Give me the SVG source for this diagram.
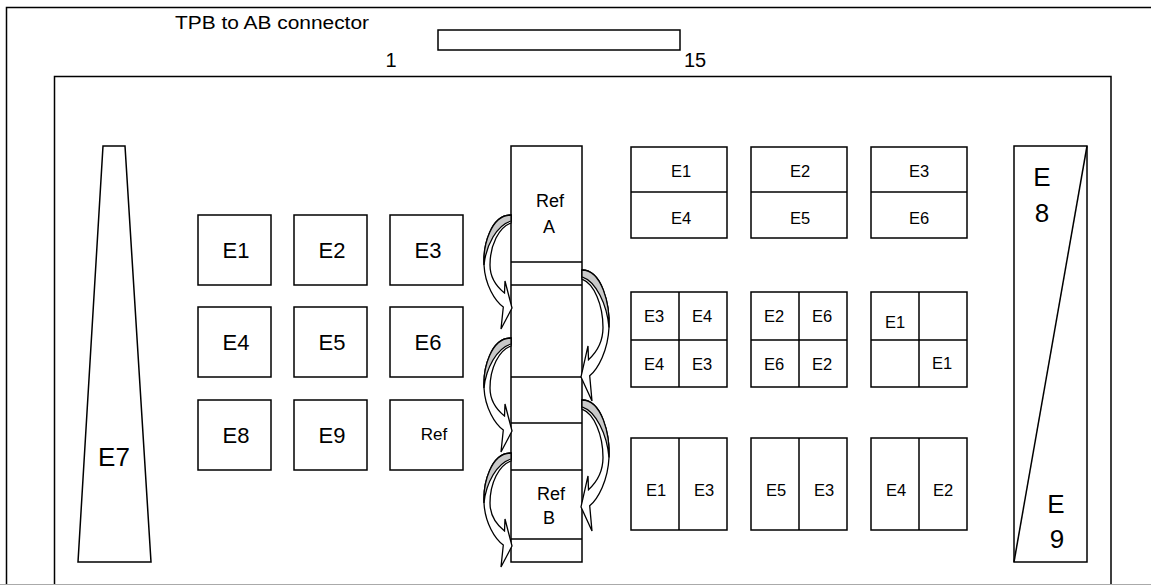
<svg xmlns="http://www.w3.org/2000/svg" width="1151" height="585" viewBox="0 0 1151 585">
<style>
.ln{fill:none;stroke:#000;stroke-width:1.5}
.bx{fill:#fff;stroke:#000;stroke-width:1.5}
.t{font-family:"Liberation Sans",Arial,sans-serif;fill:#000;text-anchor:middle}
.s15{font-size:16.5px}.s20{font-size:22px}.s24{font-size:26px}.s17{font-size:18px}
.arw{fill:#fff;stroke:#000;stroke-width:1.3;stroke-linejoin:miter}
.gry{fill:#c8c8c8;stroke:#000;stroke-width:1.3}
</style>
<defs>
<g id="carrow">
<path class="arw" vector-effect="non-scaling-stroke" d="M0,0 C-20,0 -28,30 -27,50 C-26,70 -16,86 -7.7,92 L-10,114 L1,93 L-6,66 L-6.5,78 C-14,72 -21,62 -21,50 C-21,30 -12,12 0,8 Z"/>
<path class="gry" vector-effect="non-scaling-stroke" d="M0,0 C-20,0 -28,30 -27,50 C-25,30 -14,10 0,6 Z"/>
</g>
</defs>
<rect width="1151" height="585" fill="#fff"/>
<g id="frame">
<path class="ln" d="M1160,7.5 H6.5 V584"/>
<path class="ln" d="M54.5,590 V76.5 H1111 V590"/>
<line x1="0" y1="584.5" x2="1151" y2="584.5" stroke="#aaa" stroke-width="1"/>
</g>
<g id="connector">
<text class="t" x="175" y="29" textLength="194" lengthAdjust="spacingAndGlyphs" style="font-size:18px;text-anchor:start">TPB to AB connector</text>
<rect class="bx" x="438" y="30" width="242" height="20"/>
<text class="t" style="font-size:20px" x="391" y="67">1</text>
<text class="t" style="font-size:20px" x="695" y="67">15</text>
</g>
<g id="e7">
<polygon class="bx" points="103,146 125,146 151,562 78,562"/>
<text class="t s24" x="114" y="466">E7</text>
</g>
<g id="e8e9">
<rect class="bx" x="1014" y="146" width="73" height="416"/>
<line class="ln" x1="1014" y1="562" x2="1087" y2="146"/>
<text class="t s24" x="1042" y="186">E</text>
<text class="t s24" x="1042" y="222">8</text>
<text class="t s24" x="1056" y="513">E</text>
<text class="t s24" x="1057" y="548">9</text>
</g>
<g id="leftgrid">
<g id="lg-e1"><rect class="bx" x="198" y="215" width="73" height="70"/><text class="t s20" x="236" y="258">E1</text></g>
<g id="lg-e2"><rect class="bx" x="294" y="215" width="73" height="70"/><text class="t s20" x="332" y="258">E2</text></g>
<g id="lg-e3"><rect class="bx" x="390" y="215" width="73" height="70"/><text class="t s20" x="428" y="258">E3</text></g>
<g id="lg-e4"><rect class="bx" x="198" y="307" width="73" height="70"/><text class="t s20" x="236" y="350">E4</text></g>
<g id="lg-e5"><rect class="bx" x="294" y="307" width="73" height="70"/><text class="t s20" x="332" y="350">E5</text></g>
<g id="lg-e6"><rect class="bx" x="390" y="307" width="73" height="70"/><text class="t s20" x="428" y="350">E6</text></g>
<g id="lg-e8"><rect class="bx" x="198" y="400" width="73" height="70"/><text class="t s20" x="236" y="443">E8</text></g>
<g id="lg-e9"><rect class="bx" x="294" y="400" width="73" height="70"/><text class="t s20" x="332" y="443">E9</text></g>
<g id="lg-ref"><rect class="bx" x="390" y="400" width="73" height="70"/><text class="t" style="font-size:17px" x="434" y="440">Ref</text></g>
</g>
<g id="column">
<rect class="bx" x="511" y="146" width="71" height="416"/>
<path class="ln" d="M511,262H582M511,285H582M511,377H582M511,423H582M511,470H582M511,539H582"/>
<text class="t s17" x="550" y="207">Ref</text>
<text class="t s17" x="549" y="233">A</text>
<text class="t s17" x="551" y="500">Ref</text>
<text class="t s17" x="549" y="524">B</text>
</g>
<g id="connectors">
<use href="#carrow" transform="translate(511,215)"/>
<use href="#carrow" transform="translate(511,338)"/>
<use href="#carrow" transform="translate(511,453)"/>
<use href="#carrow" transform="translate(582,270) scale(-1,1.15)"/>
<use href="#carrow" transform="translate(582,400) scale(-1,1.15)"/>
</g>
<g id="r1">
<g id="r1c1"><rect class="bx" x="631" y="147" width="96" height="91"/><line class="ln" x1="631" y1="192" x2="727" y2="192"/><text class="t s15" x="681" y="177">E1</text><text class="t s15" x="681" y="224">E4</text></g>
<g id="r1c2"><rect class="bx" x="751" y="147" width="96" height="91"/><line class="ln" x1="751" y1="192" x2="847" y2="192"/><text class="t s15" x="800" y="177">E2</text><text class="t s15" x="800" y="224">E5</text></g>
<g id="r1c3"><rect class="bx" x="871" y="147" width="96" height="91"/><line class="ln" x1="871" y1="192" x2="967" y2="192"/><text class="t s15" x="919" y="177">E3</text><text class="t s15" x="919" y="224">E6</text></g>
</g>
<g id="r2">
<g id="r2c1"><rect class="bx" x="631" y="292" width="96" height="95"/><path class="ln" d="M679,292V387M631,340H727"/><text class="t s15" x="654" y="322">E3</text><text class="t s15" x="702" y="322">E4</text><text class="t s15" x="654" y="370">E4</text><text class="t s15" x="702" y="370">E3</text></g>
<g id="r2c2"><rect class="bx" x="751" y="292" width="96" height="95"/><path class="ln" d="M799,292V387M751,340H847"/><text class="t s15" x="774" y="322">E2</text><text class="t s15" x="822" y="322">E6</text><text class="t s15" x="774" y="370">E6</text><text class="t s15" x="822" y="370">E2</text></g>
<g id="r2c3"><rect class="bx" x="871" y="292" width="96" height="95"/><path class="ln" d="M919,292V387M871,340H967"/><text class="t s15" x="895" y="328">E1</text><text class="t s15" x="942" y="369">E1</text></g>
</g>
<g id="r3">
<g id="r3c1"><rect class="bx" x="631" y="438" width="96" height="92"/><line class="ln" x1="679" y1="438" x2="679" y2="530"/><text class="t s15" x="656" y="496">E1</text><text class="t s15" x="704" y="496">E3</text></g>
<g id="r3c2"><rect class="bx" x="751" y="438" width="96" height="92"/><line class="ln" x1="799" y1="438" x2="799" y2="530"/><text class="t s15" x="776" y="496">E5</text><text class="t s15" x="824" y="496">E3</text></g>
<g id="r3c3"><rect class="bx" x="871" y="438" width="96" height="92"/><line class="ln" x1="919" y1="438" x2="919" y2="530"/><text class="t s15" x="896" y="496">E4</text><text class="t s15" x="943" y="496">E2</text></g>
</g>
</svg>
